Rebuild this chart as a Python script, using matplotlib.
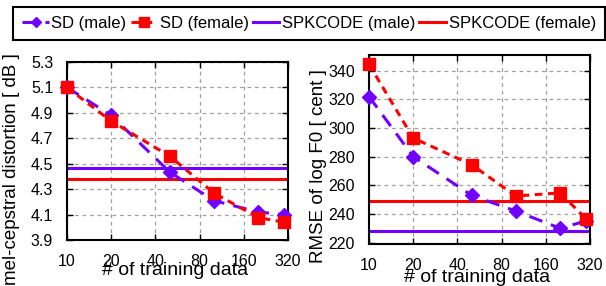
import matplotlib
matplotlib.use("Agg")
import matplotlib.pyplot as plt
from matplotlib.ticker import FixedLocator, NullLocator

# number of training utterances
train_sizes = [10, 20, 50, 100, 200, 300]
x_ticks = [10, 20, 40, 80, 160, 320]
x_tick_labels = ["10", "20", "40", "80", "160", "320"]

# mel-cepstral distortion [dB]
mcd_sd_male = [5.10, 4.88, 4.435, 4.21, 4.12, 4.10]
mcd_sd_female = [5.10, 4.835, 4.56, 4.27, 4.077, 4.04]
mcd_spkcode_male = 4.466
mcd_spkcode_female = 4.377
mcd_ticks = [3.9, 4.1, 4.3, 4.5, 4.7, 4.9, 5.1, 5.3]

# RMSE of log F0 [cent]
f0_sd_male = [322, 280, 253, 242, 230, 235]
f0_sd_female = [344.5, 293, 274.4, 252.5, 254.7, 236.7]
f0_spkcode_male = 228
f0_spkcode_female = 249.3
f0_ticks = [220, 240, 260, 280, 300, 320, 340]

PURPLE = "#7000ff"
RED = "#ff0000"

plt.rcParams["font.family"] = ["Liberation Sans", "DejaVu Sans"]


def style_axes(ax, yticks, ylim):
    ax.set_xscale("log", base=2)
    ax.set_xlim(10, 320)
    ax.xaxis.set_major_locator(FixedLocator(x_ticks))
    ax.xaxis.set_minor_locator(NullLocator())
    ax.set_xticklabels(x_tick_labels)
    ax.set_yticks(yticks)
    ax.set_ylim(*ylim)
    ax.grid(True, color="#a0a0a0", linestyle=(0, (3, 3)), linewidth=0.9)
    ax.tick_params(direction="in", length=4, width=1.0, labelsize=11.5,
                   pad=10, top=True, right=True)
    for s in ax.spines.values():
        s.set_linewidth(1.5)


def plot_panel(ax, male, female, code_male, code_female):
    ax.plot(train_sizes, male, color=PURPLE, lw=2.2, linestyle=(0, (4.5, 3)),
            marker="D", markersize=7, clip_on=False, zorder=3,
            label="SD (male)")
    ax.plot(train_sizes, female, color=RED, lw=2.2, linestyle=(0, (2.5, 1.8)),
            marker="s", markersize=8.5, clip_on=False, zorder=4,
            label="SD (female)")
    ax.axhline(code_male, color=PURPLE, lw=2.2, zorder=2,
               label="SPKCODE (male)")
    ax.axhline(code_female, color=RED, lw=2.2, zorder=2,
               label="SPKCODE (female)")


fig = plt.figure(figsize=(6.06, 2.86), dpi=100)
ax1 = fig.add_axes([0.1106, 0.1608, 0.3647, 0.6224])
ax2 = fig.add_axes([0.6089, 0.1469, 0.3647, 0.6608])

plot_panel(ax1, mcd_sd_male, mcd_sd_female, mcd_spkcode_male, mcd_spkcode_female)
style_axes(ax1, mcd_ticks, (3.9, 5.3))
ax1.set_yticklabels([f"{t:.1f}" for t in mcd_ticks])
ax1.set_xlabel("# of training data", fontsize=14)
ax1.xaxis.set_label_coords(0.49, -0.125)
ax1.set_ylabel("mel-cepstral distortion [ dB ]", fontsize=13.5)
ax1.yaxis.set_label_coords(-0.215, 0.40)

plot_panel(ax2, f0_sd_male, f0_sd_female, f0_spkcode_male, f0_spkcode_female)
style_axes(ax2, f0_ticks, (219, 351))
ax2.set_xlabel("# of training data", fontsize=14)
ax2.xaxis.set_label_coords(0.49, -0.13)
ax2.set_ylabel("RMSE of log F0 [ cent ]", fontsize=13.5)
ax2.yaxis.set_label_coords(-0.19, 0.41)

handles, labels = ax1.get_legend_handles_labels()
leg = fig.legend(handles, labels, ncol=4, loc="upper left",
                 bbox_to_anchor=(13 / 606, 1 - 7 / 286, 592 / 606, 0.0),
                 mode="expand", borderaxespad=0, fontsize=12, markerscale=0.8,
                 handlelength=1.6, handletextpad=0.15, columnspacing=0.8,
                 borderpad=0.55, fancybox=False, framealpha=1)
leg.get_frame().set_edgecolor("black")
leg.get_frame().set_linewidth(1.5)

fig.savefig("out.png", dpi=100)
